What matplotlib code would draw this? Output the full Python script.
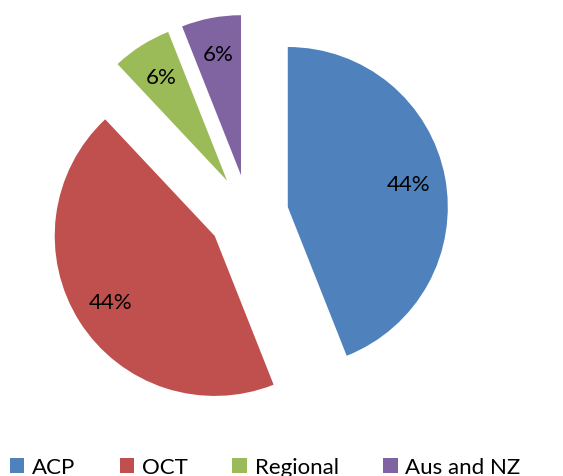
import matplotlib
matplotlib.use("Agg")
import matplotlib.pyplot as plt
from matplotlib.patches import Patch

categories = ["ACP", "OCT", "Regional", "Aus and NZ"]
values = [44, 44, 6, 6]
colors = ["#4F81BD", "#C0504D", "#9BBB59", "#8064A2"]

plt.rcParams['font.family'] = ['Lato', 'DejaVu Sans']

fig = plt.figure(figsize=(5.63, 4.77), dpi=100)
ax = fig.add_axes([0, 0, 1, 1])
wedges, texts, autotexts = ax.pie(
    values, colors=colors, startangle=90, counterclock=False,
    explode=[0.25] * 4, radius=1, autopct='%1.0f%%', pctdistance=0.77,
    textprops=dict(fontsize=16, color='black'))
ax.set_xlim(-248.5 / 160, (563 - 248.5) / 160)
ax.set_ylim(-261.5 / 160, (477 - 261.5) / 160)
ax.set_aspect('equal')
ax.axis('off')

handles = [Patch(facecolor=c, edgecolor='none') for c in colors]
fig.legend(handles, categories, loc='center left', bbox_to_anchor=(10 / 563, 1 - 468 / 477),
           ncol=4, frameon=False, fontsize=16, handlelength=0.65, handleheight=0.65,
           handletextpad=0.35, columnspacing=2.0, borderaxespad=0, borderpad=0)

fig.savefig("out.png", dpi=100)
